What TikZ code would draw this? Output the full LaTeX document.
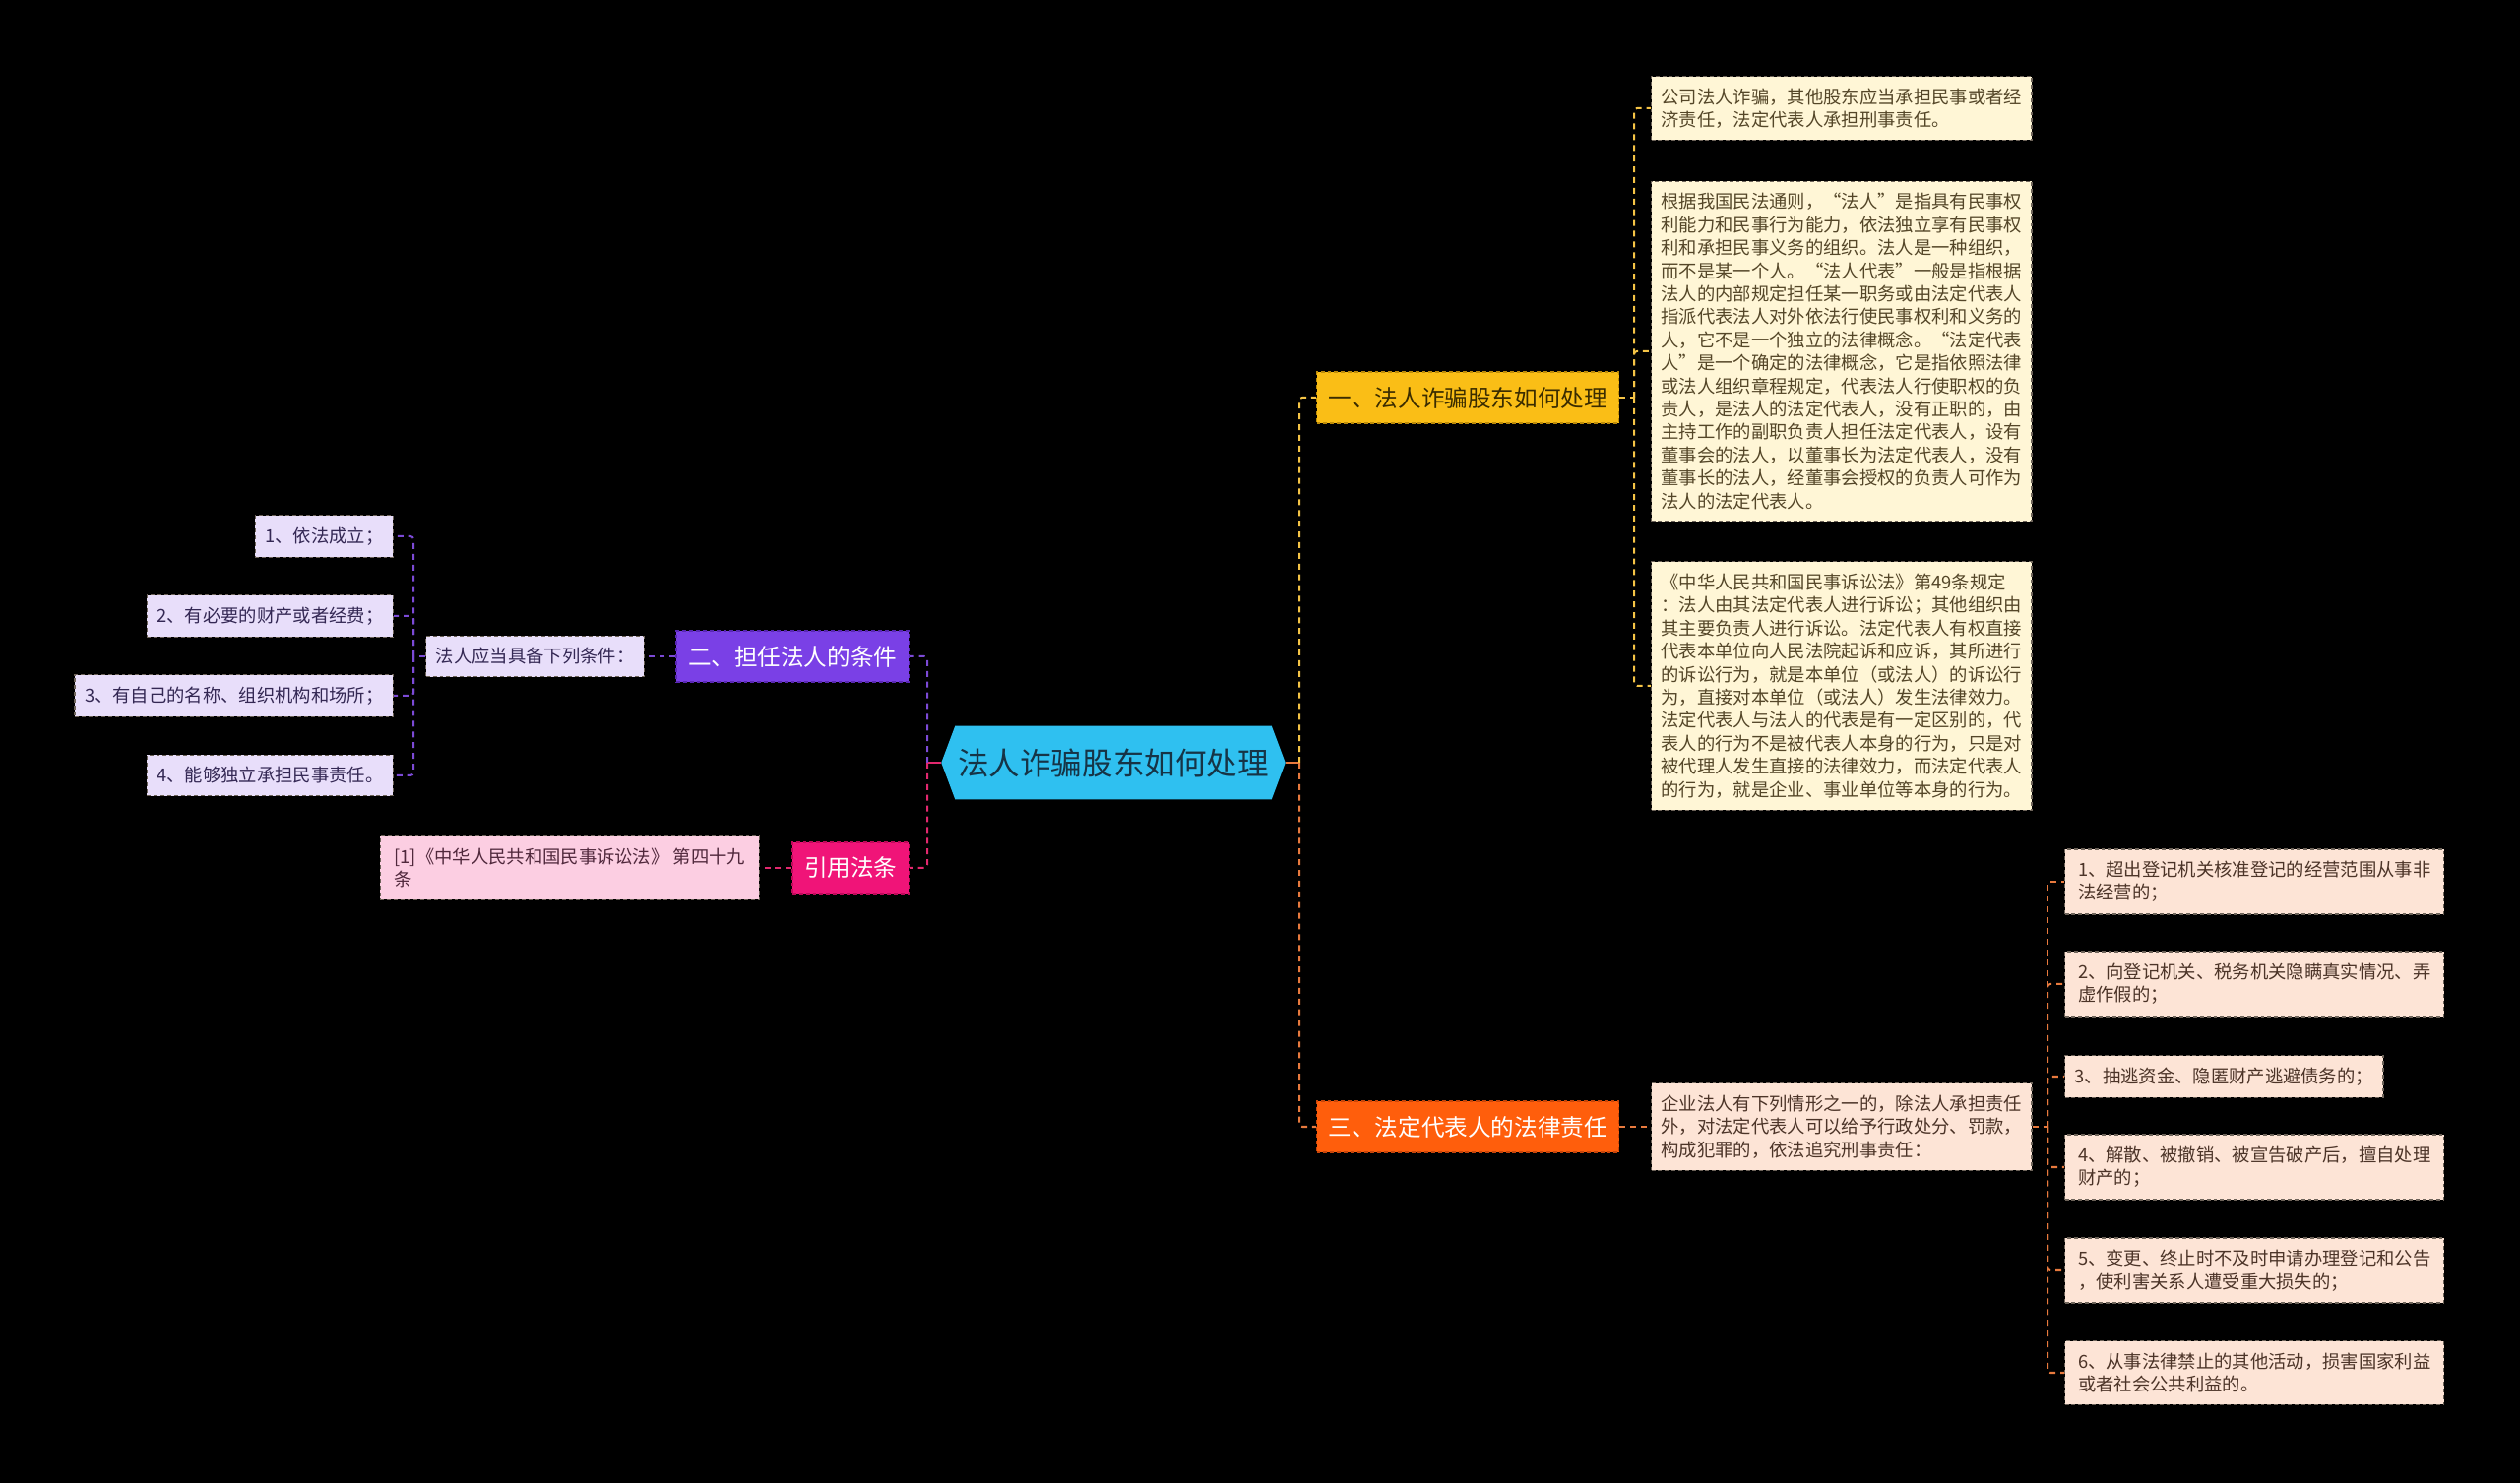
\documentclass[tikz,border=0pt]{standalone}
\usepackage{fontspec}
\setmainfont{Noto Sans CJK SC}
\usetikzlibrary{backgrounds}

\definecolor{rootfill}{RGB}{47,192,240}
\definecolor{roottext}{RGB}{22,52,70}
\definecolor{ylwfill}{RGB}{250,190,22}
\definecolor{ylwedge}{RGB}{190,140,10}
\definecolor{ylwtext}{RGB}{58,44,0}
\definecolor{ylwline}{RGB}{245,196,70}
\definecolor{creamfill}{RGB}{255,246,214}
\definecolor{creamtext}{RGB}{84,70,40}
\definecolor{purfill}{RGB}{122,64,230}
\definecolor{puredge}{RGB}{90,40,180}
\definecolor{purline}{RGB}{124,74,214}
\definecolor{lavfill}{RGB}{232,222,250}
\definecolor{lavtext}{RGB}{52,40,84}
\definecolor{pnkfill}{RGB}{240,20,120}
\definecolor{pnkedge}{RGB}{190,10,90}
\definecolor{pnkline}{RGB}{226,40,110}
\definecolor{pnkpale}{RGB}{252,206,226}
\definecolor{pnktext}{RGB}{80,40,60}
\definecolor{orgfill}{RGB}{255,94,12}
\definecolor{orgedge}{RGB}{200,70,10}
\definecolor{orgline}{RGB}{232,122,62}
\definecolor{peachfill}{RGB}{253,228,214}
\definecolor{peachtext}{RGB}{76,52,40}
\definecolor{boxedge}{RGB}{110,100,90}

\begin{document}
\begin{tikzpicture} [
    x=0.01cm, y=-0.01cm,
    rootbox/.style  = { rectangle, draw=none, text=roottext, inner xsep=0.165cm,
                        inner ysep=0.22cm, font=\fontsize{8.96pt}{10pt}\selectfont },
    topic/.style    = { rectangle, draw, line width=0.35pt, dash pattern=on 1.1pt off 0.85pt,
                        inner xsep=0.12cm, inner ysep=0.15cm,
                        font=\fontsize{6.71pt}{8pt}\selectfont },
    leaf/.style     = { rectangle, draw=boxedge, line width=0.35pt, dash pattern=on 1.1pt off 0.85pt,
                        align=left, inner xsep=0.1cm, inner ysep=0.12cm,
                        font=\fontsize{5.21pt}{6.66pt}\selectfont },
    wide/.style     = { leaf, minimum width=3.85cm },
    cream/.style    = { fill=creamfill, text=creamtext },
    lav/.style      = { fill=lavfill, text=lavtext },
    peach/.style    = { fill=peachfill, text=peachtext },
    link/.style     = { draw, line width=0.57pt, dash pattern=on 1.7pt off 1.4pt,
                        rounded corners=0.03cm },
    stub/.style     = { draw, line width=0.57pt },
  ]

  \useasboundingbox (0,0) rectangle (2560,1507);
  \begin{scope}[on background layer]
    \fill[black] (0,0) rectangle (2560,1507);
  \end{scope}

  % Define nodes
  \node[rootbox] (root) at (1131,775) {法人诈骗股东如何处理};
  \begin{scope}[on background layer]
    \fill[rootfill] (root.west) -- ([xshift=0.14cm]root.north west) -- ([xshift=-0.14cm]root.north east)
      -- (root.east) -- ([xshift=-0.14cm]root.south east) -- ([xshift=0.14cm]root.south west) -- cycle;
  \end{scope}

  \node[topic, fill=ylwfill, draw=ylwedge, text=ylwtext, anchor=west] (fraud) at (1337,404) {一、法人诈骗股东如何处理};
  \node[topic, fill=purfill, draw=puredge, text=white, anchor=east] (cond) at (924,667) {二、担任法人的条件};
  \node[topic, fill=pnkfill, draw=pnkedge, text=white, anchor=east] (cite) at (924,882) {引用法条};
  \node[topic, fill=orgfill, draw=orgedge, text=white, anchor=west] (duty) at (1337,1145) {三、法定代表人的法律责任};

  \node[wide, cream, anchor=west] (fraudA) at (1677,110) {公司法人诈骗，其他股东应当承担民事或者经\\济责任，法定代表人承担刑事责任。};
  \node[wide, cream, anchor=west] (fraudB) at (1677,357) {根据我国民法通则，“法人”是指具有民事权\\利能力和民事行为能力，依法独立享有民事权\\利和承担民事义务的组织。法人是一种组织，\\而不是某一个人。“法人代表”一般是指根据\\法人的内部规定担任某一职务或由法定代表人\\指派代表法人对外依法行使民事权利和义务的\\人，它不是一个独立的法律概念。“法定代表\\人”是一个确定的法律概念，它是指依照法律\\或法人组织章程规定，代表法人行使职权的负\\责人，是法人的法定代表人，没有正职的，由\\主持工作的副职负责人担任法定代表人，设有\\董事会的法人，以董事长为法定代表人，没有\\董事长的法人，经董事会授权的负责人可作为\\法人的法定代表人。};
  \node[wide, cream, anchor=west] (fraudC) at (1677,697) {《中华人民共和国民事诉讼法》第49条规定\\：法人由其法定代表人进行诉讼；其他组织由\\其主要负责人进行诉讼。法定代表人有权直接\\代表本单位向人民法院起诉和应诉，其所进行\\的诉讼行为，就是本单位（或法人）的诉讼行\\为，直接对本单位（或法人）发生法律效力。\\法定代表人与法人的代表是有一定区别的，代\\表人的行为不是被代表人本身的行为，只是对\\被代理人发生直接的法律效力，而法定代表人\\的行为，就是企业、事业单位等本身的行为。};

  \node[leaf, lav, anchor=east] (req) at (655,667) {法人应当具备下列条件：};
  \node[leaf, lav, anchor=east] (req1) at (400,545) {1、依法成立；};
  \node[leaf, lav, anchor=east] (req2) at (400,626) {2、有必要的财产或者经费；};
  \node[leaf, lav, anchor=east] (req3) at (400,707) {3、有自己的名称、组织机构和场所；};
  \node[leaf, lav, anchor=east] (req4) at (400,788) {4、能够独立承担民事责任。};

  \node[wide, fill=pnkpale, text=pnktext, anchor=east] (law) at (772,882) {[1]《中华人民共和国民事诉讼法》 第四十九\\条};

  \node[wide, peach, anchor=west] (acts) at (1677,1145) {企业法人有下列情形之一的，除法人承担责任\\外，对法定代表人可以给予行政处分、罚款，\\构成犯罪的，依法追究刑事责任：};
  \node[wide, peach, anchor=west] (act1) at (2097,896) {1、超出登记机关核准登记的经营范围从事非\\法经营的；};
  \node[wide, peach, anchor=west] (act2) at (2097,1000) {2、向登记机关、税务机关隐瞒真实情况、弄\\虚作假的；};
  \node[leaf, peach, anchor=west] (act3) at (2097,1094) {3、抽逃资金、隐匿财产逃避债务的；};
  \node[wide, peach, anchor=west] (act4) at (2097,1186) {4、解散、被撤销、被宣告破产后，擅自处理\\财产的；};
  \node[wide, peach, anchor=west] (act5) at (2097,1291) {5、变更、终止时不及时申请办理登记和公告\\，使利害关系人遭受重大损失的；};
  \node[wide, peach, anchor=west] (act6) at (2097,1395) {6、从事法律禁止的其他活动，损害国家利益\\或者社会公共利益的。};

  \coordinate (jr) at (1320,775);
  \coordinate (jl) at (942,775);
  \coordinate (jf) at (1660,404);
  \coordinate (jq) at (420,667);
  \coordinate (jd) at (2080,1145);

  % connect the nodes
		\path [stub, draw=orgline] (root.east) -- (jr);
		\path [link, draw=ylwline] (jr) |- (fraud.west);
		\path [link, draw=orgline] (jr) |- (duty.west);
		\path [stub, draw=pnkline] (root.west) -- (jl);
		\path [link, draw=purline] (jl) |- (cond.east);
		\path [link, draw=pnkline] (jl) |- (cite.east);
		\path [link, draw=ylwline] (fraud.east) -- (jf);
		\path [link, draw=ylwline] (jf) |- (fraudA.west);
		\path [link, draw=ylwline] (jf) |- (fraudB.west);
		\path [link, draw=ylwline] (jf) |- (fraudC.west);
		\path [link, draw=purline] (cond.west) -- (req.east);
		\path [link, draw=purline] (req.west) -- (jq);
		\path [link, draw=purline] (jq) |- (req1.east);
		\path [link, draw=purline] (jq) |- (req2.east);
		\path [link, draw=purline] (jq) |- (req3.east);
		\path [link, draw=purline] (jq) |- (req4.east);
		\path [link, draw=pnkline] (cite.west) -- (law.east);
		\path [link, draw=orgline] (duty.east) -- (acts.west);
		\path [link, draw=orgline] (acts.east) -- (jd);
		\path [link, draw=orgline] (jd) |- (act1.west);
		\path [link, draw=orgline] (jd) |- (act2.west);
		\path [link, draw=orgline] (jd) |- (act3.west);
		\path [link, draw=orgline] (jd) |- (act4.west);
		\path [link, draw=orgline] (jd) |- (act5.west);
		\path [link, draw=orgline] (jd) |- (act6.west);
\end{tikzpicture}
\end{document}
